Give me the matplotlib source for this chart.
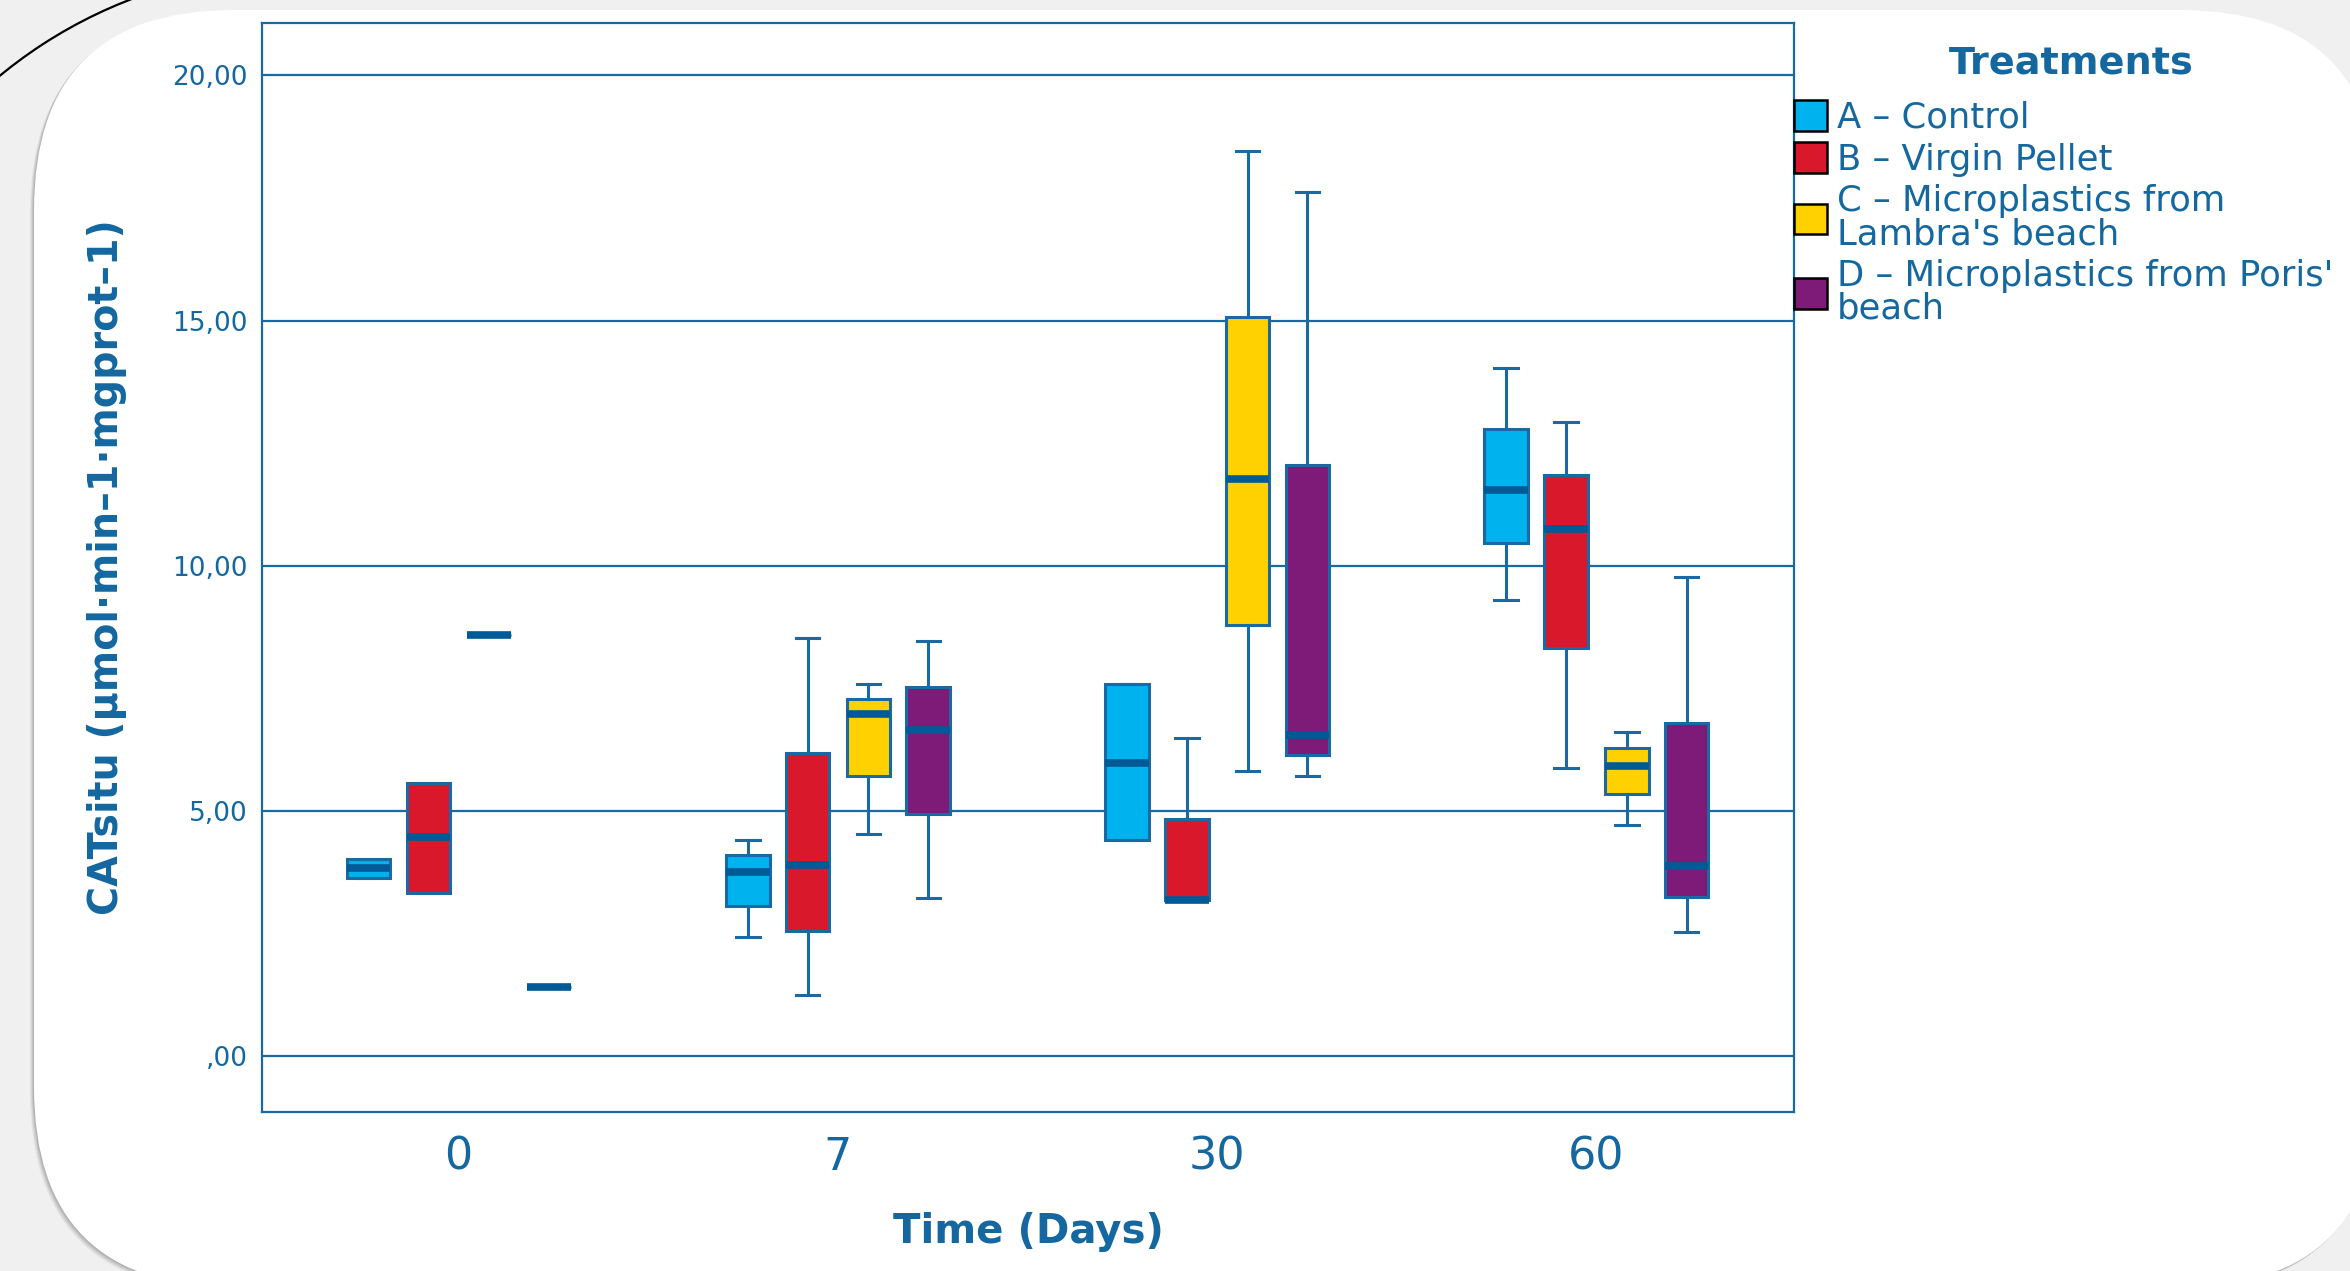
import matplotlib
matplotlib.use('Agg')
import matplotlib.pyplot as plt
from matplotlib.patches import FancyBboxPatch, Arc, Patch

# ---- data ----
days = ['0', '7', '30', '60']
treatments = ['A – Control', 'B – Virgin Pellet',
              "C – Microplastics from\nLambra's beach",
              "D – Microplastics from Poris'\nbeach"]
colors = ['#00B2EE', '#DA182C', '#FFD100', '#7E1A78']

# per treatment, one value per day: median, q1, q3, whisker low, whisker high
a_med = [3.84, 3.75, 5.98, 11.55]
a_q1 = [3.63, 3.07, 4.41, 10.46]
a_q3 = [4.01, 4.10, 7.58, 12.79]
a_lo = [3.63, 2.43, 4.41, 9.30]
a_hi = [4.01, 4.41, 7.58, 14.04]

b_med = [4.47, 3.90, 3.19, 10.76]
b_q1 = [3.32, 2.55, 3.19, 8.32]
b_q3 = [5.57, 6.19, 4.83, 11.85]
b_lo = [3.32, 1.24, 3.19, 5.87]
b_hi = [5.57, 8.52, 6.49, 12.94]

c_med = [8.58, 6.97, 11.77, 5.92]
c_q1 = [8.58, 5.72, 8.79, 5.34]
c_q3 = [8.58, 7.28, 15.08, 6.28]
c_lo = [8.58, 4.52, 5.82, 4.72]
c_hi = [8.58, 7.58, 18.46, 6.60]

d_med = [1.40, 6.66, 6.55, 3.88]
d_q1 = [1.40, 4.94, 6.15, 3.24]
d_q3 = [1.40, 7.53, 12.06, 6.80]
d_lo = [1.40, 3.22, 5.72, 2.54]
d_hi = [1.40, 8.47, 17.62, 9.77]

yticks = [0, 5, 10, 15, 20]
ytick_labels = [',00', '5,00', '10,00', '15,00', '20,00']

groups = [
    (a_med, a_q1, a_q3, a_lo, a_hi),
    (b_med, b_q1, b_q3, b_lo, b_hi),
    (c_med, c_q1, c_q3, c_lo, c_hi),
    (d_med, d_q1, d_q3, d_lo, d_hi),
]

blue = '#1B69A3'
text_blue = '#14679F'
median_blue = '#005A96'

W, H = 2350, 1271
fig = plt.figure(figsize=(W / 100, H / 100), dpi=100, facecolor='#F0F0F0')

# background card with soft shadow
bg = fig.add_axes([0, 0, 1, 1], zorder=-10)
bg.set_xlim(0, W)
bg.set_ylim(H, 0)
bg.axis('off')
for k, a in enumerate([0.10, 0.12, 0.16, 0.22]):
    off = 4 - k
    bg.add_patch(FancyBboxPatch((34 - off, 10 + off), 2346, 1277,
                                boxstyle='round,pad=0,rounding_size=200',
                                fc='#707070', ec='none', alpha=a))
bg.add_patch(FancyBboxPatch((34, 10), 2346, 1277,
                            boxstyle='round,pad=0,rounding_size=200',
                            fc='white', ec='none'))
bg.add_patch(Arc((300, 440), 944, 944, theta1=222, theta2=252,
                 color='black', lw=1.6))

ax = fig.add_axes([262 / W, 1 - 1112 / H, (1794 - 262) / W, (1112 - 22.5) / H])
ax.set_facecolor('white')

offsets = [-0.237, -0.079, 0.081, 0.239]
for j, (med, q1, q3, lo, hi) in enumerate(groups):
    stats = [dict(med=med[i], q1=q1[i], q3=q3[i], whislo=lo[i], whishi=hi[i], fliers=[])
             for i in range(len(days))]
    pos = [i + offsets[j] for i in range(len(days))]
    ax.bxp(stats, positions=pos, widths=0.115, capwidths=0.062, patch_artist=True,
           showfliers=False, manage_ticks=False,
           boxprops=dict(facecolor=colors[j], edgecolor=blue, linewidth=2.2),
           whiskerprops=dict(color=blue, linewidth=2.2),
           capprops=dict(color=blue, linewidth=2.2),
           medianprops=dict(color=median_blue, linewidth=5.5, solid_capstyle='butt'))

ax.set_xlim(-0.518, 3.522)
ax.set_ylim(-1.14, 21.08)
ax.set_xticks(range(len(days)))
ax.set_xticklabels(days, fontsize=32, color=text_blue)
ax.set_yticks(yticks)
ax.set_yticklabels(ytick_labels, fontsize=19, color=text_blue)
ax.tick_params(axis='both', length=0)
ax.tick_params(axis='y', pad=10)
ax.tick_params(axis='x', pad=17)
ax.yaxis.grid(True, color=blue, linewidth=1.6)
ax.set_axisbelow(True)
for s in ax.spines.values():
    s.set_color(blue)
    s.set_linewidth(1.6)

ax.set_xlabel('Time (Days)', fontsize=29, fontweight='bold', color=text_blue, va='center')
ax.xaxis.set_label_coords(0.5, -0.11)
ax.set_ylabel('CATsitu (µmol·min–1·mgprot–1)', fontsize=28.5, fontweight='bold',
              color=text_blue, va='center')
ax.yaxis.set_label_coords(-0.101, 0.5)

# legend: title as its own text, entries below it
fig.text(2071 / W, 1 - 63 / H, 'Treatments', fontsize=27.5, fontweight='bold',
         color=text_blue, ha='center', va='center')
handles = [Patch(facecolor=c, edgecolor='black', linewidth=1.8) for c in colors]
leg = ax.legend(handles, treatments, loc='upper left',
                bbox_to_anchor=(1794 / W, 1 - 100 / H), bbox_transform=fig.transFigure,
                frameon=False, prop={'size': 25.5},
                handlelength=0.92, handleheight=0.95, handletextpad=0.3,
                labelspacing=0.22, borderpad=0, borderaxespad=0)
for t in leg.get_texts():
    t.set_color(text_blue)
    t.set_linespacing(0.95)

fig.savefig('out.png', dpi=100, facecolor=fig.get_facecolor())
